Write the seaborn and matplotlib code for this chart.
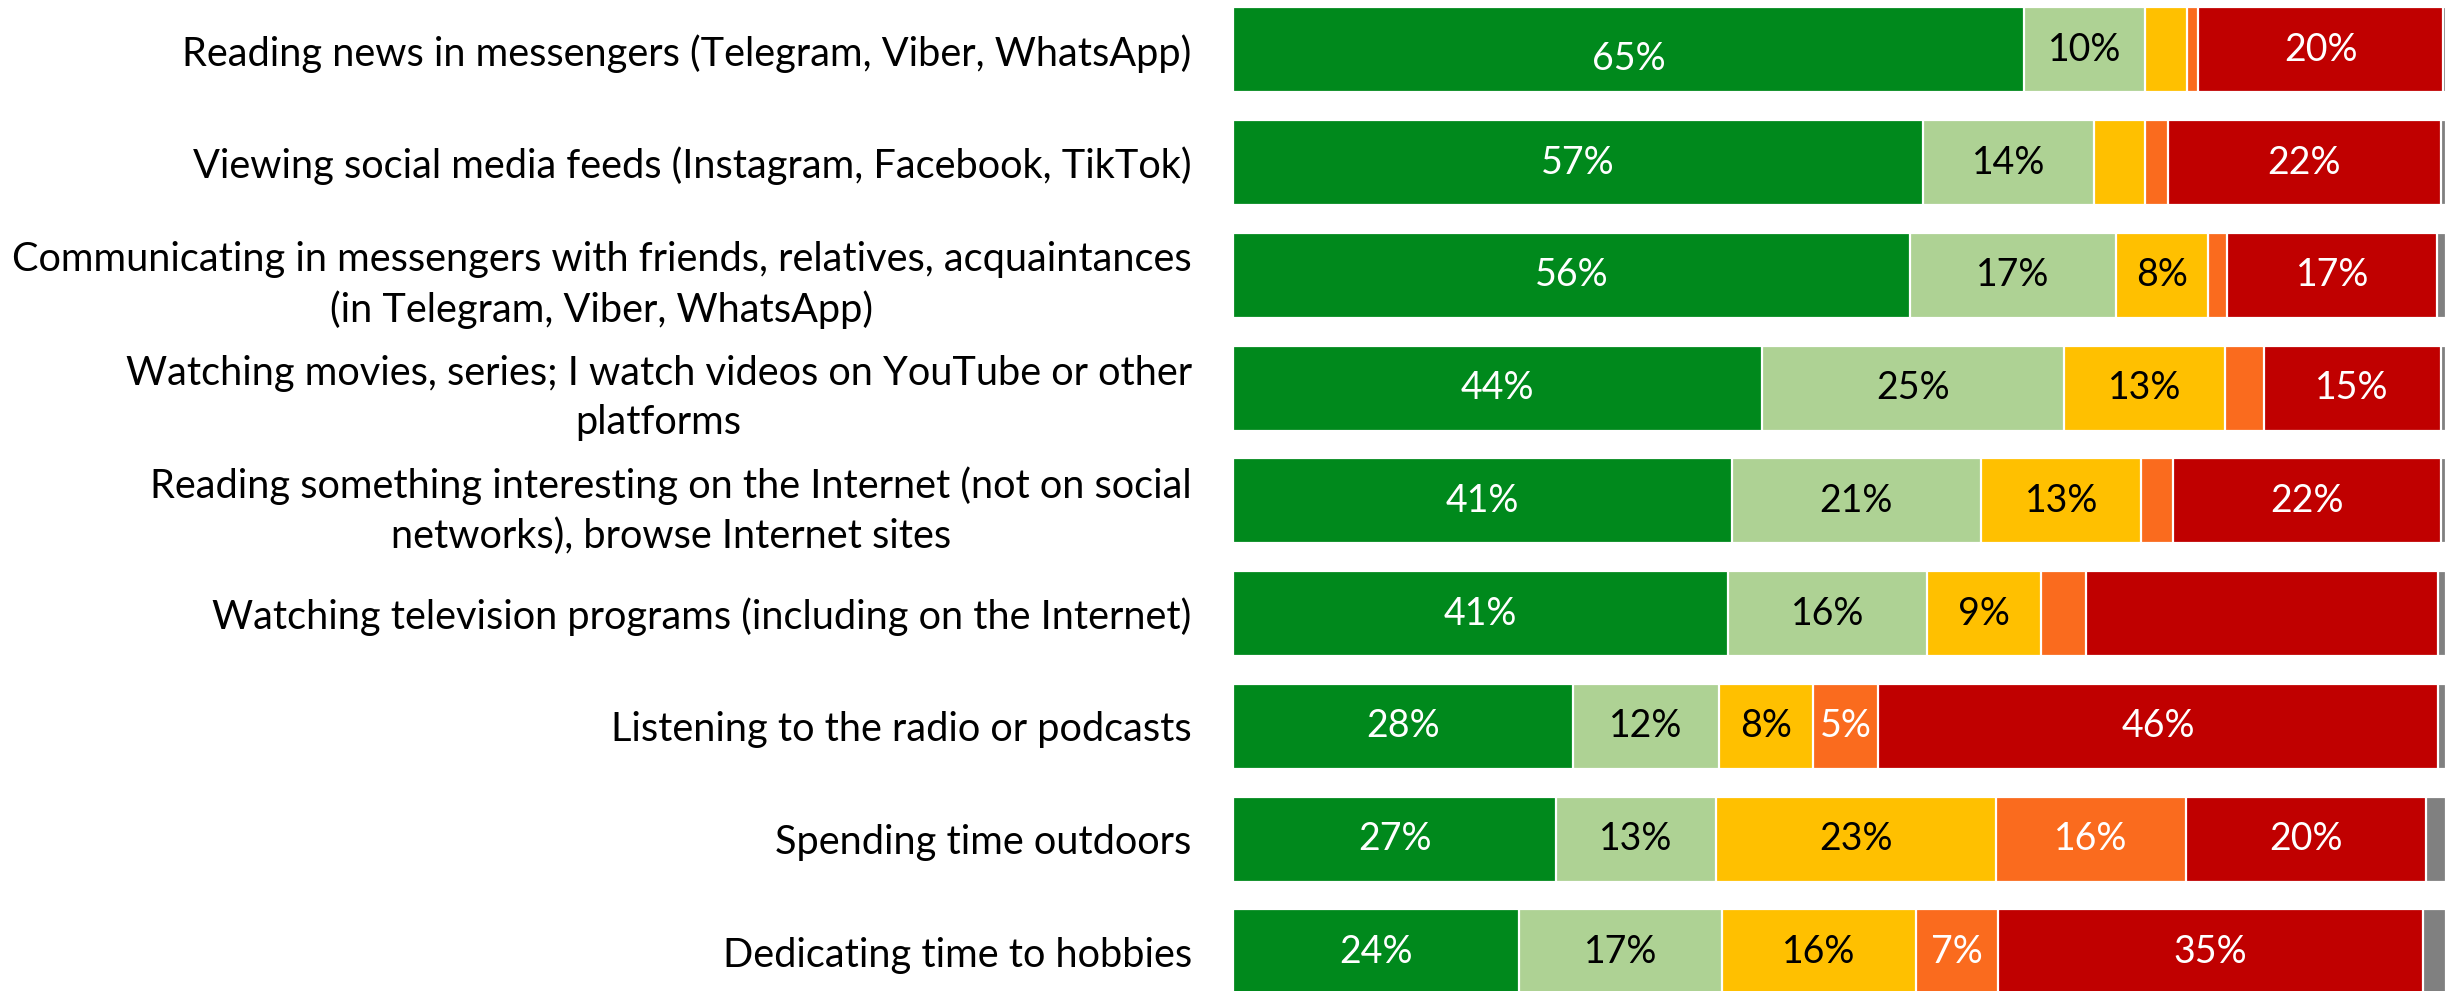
import matplotlib
matplotlib.use("Agg")
import matplotlib.pyplot as plt
import numpy as np
import pandas as pd
import seaborn as sns

# Activities (top to bottom)
activities = [
    "Reading news in messengers (Telegram, Viber, WhatsApp)",
    "Viewing social media feeds (Instagram, Facebook, TikTok)",
    "Communicating in messengers with friends, relatives, acquaintances\n(in Telegram, Viber, WhatsApp)",
    "Watching movies, series; I watch videos on YouTube or other\nplatforms",
    "Reading something interesting on the Internet (not on social\nnetworks), browse Internet sites",
    "Watching television programs (including on the Internet)",
    "Listening to the radio or podcasts",
    "Spending time outdoors",
    "Dedicating time to hobbies",
]

# Answer shares, % of respondents
every_day = [65.2, 56.9, 55.8, 43.6, 41.1, 40.8, 28.0, 26.6, 23.6]
several_times_week = [10.0, 14.1, 17.0, 24.9, 20.6, 16.4, 12.1, 13.2, 16.7]
once_week_or_less = [3.5, 4.2, 7.6, 13.3, 13.2, 9.4, 7.7, 23.1, 16.0]
rarely = [0.9, 1.9, 1.6, 3.2, 2.6, 3.7, 5.4, 15.7, 6.8]
never = [20.2, 22.5, 17.3, 14.6, 22.1, 29.1, 46.2, 19.8, 35.0]
hard_to_say = [0.2, 0.4, 0.7, 0.4, 0.4, 0.6, 0.6, 1.6, 1.9]

series_names = ["Every day", "Several times a week", "Once a week or less",
                "Rarely", "Never", "Hard to say"]
series_values = [every_day, several_times_week, once_week_or_less,
                 rarely, never, hard_to_say]
series_colors = ["#00891C", "#AED294", "#FFC000", "#FA6B1E", "#C00000", "#808080"]
label_colors = ["white", "black", "black", "white", "white", None]

# Segments left without a value label
unlabeled = {("Watching television programs (including on the Internet)", "Never")}
# Labels nudged downward (in bar-height units)
label_nudge = {("Reading news in messengers (Telegram, Viber, WhatsApp)", "Every day"): 0.08}

df = pd.DataFrame({name: vals for name, vals in zip(series_names, series_values)},
                  index=activities)
cum = df.cumsum(axis=1)

sns.set_theme(style="white")
plt.rcParams["font.family"] = ["Lato", "DejaVu Sans"]

fig = plt.figure(figsize=(24.48, 9.91), dpi=100)
ax = fig.add_axes([0.5038, 0.0, 0.4952, 1.0])

# Stacked bars: draw cumulative totals from the outermost series inward
for name, color in reversed(list(zip(series_names, series_colors))):
    sns.barplot(x=cum[name].values, y=activities, orient="h", color=color,
                width=0.754, edgecolor="white", linewidth=1.6,
                saturation=1, ax=ax)

# Value labels centered in each segment
for i, act in enumerate(activities):
    for j, name in enumerate(series_names):
        v = df.loc[act, name]
        if label_colors[j] is None or v < 5 or (act, name) in unlabeled:
            continue
        center = cum.loc[act, name] - v / 2
        ax.text(center, i + label_nudge.get((act, name), 0.0), f"{round(v)}%",
                ha="center", va="center", color=label_colors[j], fontsize=27)

ax.set_xlim(0, 100)
ax.set_ylim(8.348, -0.4417)
ax.set_xlabel("")
ax.set_ylabel("")
ax.set_xticks([])
for s in ax.spines.values():
    s.set_visible(False)
ax.tick_params(axis="y", length=0, pad=30, labelsize=28.6)
for t in ax.get_yticklabels():
    t.set_multialignment("center")
    t.set_linespacing(1.4)
    t.set_color("black")

fig.savefig("out.png", dpi=100)
